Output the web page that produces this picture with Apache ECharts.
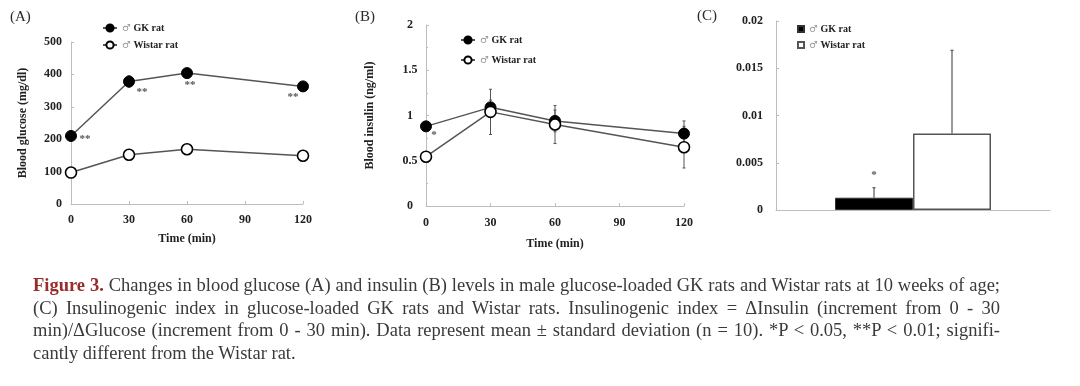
<!DOCTYPE html>
<html><head><meta charset="utf-8">
<script src="https://cdn.jsdelivr.net/npm/echarts@6/dist/echarts.min.js"></script>
<style>
html,body{margin:0;padding:0;background:#fff;}
#chart{position:absolute;left:0;top:0;width:1080px;height:386px;}
#cap{position:absolute;left:33px;top:274px;width:967px;font-family:"Liberation Serif",serif;font-size:18.5px;line-height:22.5px;color:#3a3a3a;}
#cap div{text-align:justify;text-align-last:justify;}
#cap div.last{text-align-last:left;}
#cap b{color:#9b2c2c;}
</style></head><body>
<div id="chart"></div>
<div id="cap">
<div><b>Figure 3.</b> Changes in blood glucose (A) and insulin (B) levels in male glucose-loaded GK rats and Wistar rats at 10 weeks of age;</div>
<div>(C) Insulinogenic index in glucose-loaded GK rats and Wistar rats. Insulinogenic index = ΔInsulin (increment from 0 - 30</div>
<div>min)/ΔGlucose (increment from 0 - 30 min). Data represent mean ± standard deviation (n = 10). *P &lt; 0.05, **P &lt; 0.01; signifi-</div>
<div class="last">cantly different from the Wistar rat.</div>
</div>
<script>
// ---- data ----
const timeMin = [0, 30, 60, 120];
const timeTicks = [0, 30, 60, 90, 120];
const glucoseGK = [210, 378, 404, 363];
const glucoseGKsd = [12, 18, 10, 10];
const glucoseWistar = [97, 152, 169, 149];
const glucoseWistarSd = [5, 8, 8, 6];
const glucoseSig = ['**', '**', '**', '**'];
const insulinGK = [0.88, 1.09, 0.94, 0.80];
const insulinGKsd = [0.03, 0.08, 0.12, 0.14];
const insulinWistar = [0.545, 1.04, 0.90, 0.65];
const insulinWistarSd = [0.03, 0.25, 0.21, 0.23];
const insulinSig = ['*', '', '', ''];
const indexMean = [0.0013, 0.0081];   // GK, Wistar
const indexSd = [0.00106, 0.0088];
const indexSig = ['*', ''];
const groupNames = ['GK rat', 'Wistar rat'];

// ---- styles ----
const FONT = '"Liberation Serif", "Times New Roman", serif';
const AXIS_C = '#bdbdbd';
const TXT = '#222';
const LINE_C = '#555';
const sigOffA = [[14, 3.5], [13, 11], [3, 12.5], [-10, 11]];
const sigOffB = [[8, 8.5], [0, 0], [0, 0], [0, 0]];
const BAR_W = 78;

const chart = echarts.init(document.getElementById('chart'));

function valueAxisX(gi, gapLabel, gapName) {
  return {
    type: 'value', gridIndex: gi, min: 0, max: 120, interval: 30,
    name: 'Time (min)', nameLocation: 'middle', nameGap: gapName,
    nameTextStyle: { fontFamily: FONT, fontWeight: 'bold', fontSize: 12, color: TXT },
    axisLine: { lineStyle: { color: AXIS_C, width: 1 } },
    axisTick: { inside: true, length: 3, lineStyle: { color: AXIS_C } },
    axisLabel: { fontFamily: FONT, fontWeight: 'bold', fontSize: 12, color: TXT, margin: gapLabel },
    splitLine: { show: false }
  };
}
function yAxisBase(gi, opts) {
  return Object.assign({
    type: 'value', gridIndex: gi, nameLocation: 'middle', nameRotate: 90,
    nameTextStyle: { fontFamily: FONT, fontWeight: 'bold', fontSize: 12, color: TXT },
    axisLine: { show: true, lineStyle: { color: AXIS_C, width: 1 } },
    axisTick: { show: true, inside: true, length: 3, lineStyle: { color: AXIS_C } },
    splitLine: { show: false }
  }, opts);
}

function errLine(xi, yi, xs, means, sds, z) {
  return {
    type: 'custom', xAxisIndex: xi, yAxisIndex: yi, z: z, silent: true,
    encode: { x: 0, y: [1, 2] },
    data: xs.map((x, i) => [x, means[i] - sds[i], means[i] + sds[i]]),
    renderItem(params, api) {
      const x = api.value(0);
      const pTop = api.coord([x, api.value(2)]);
      const pBot = api.coord([x, api.value(1)]);
      const st = { stroke: LINE_C, lineWidth: 1 };
      return { type: 'group', children: [
        { type: 'line', shape: { x1: pTop[0], y1: pTop[1], x2: pBot[0], y2: pBot[1] }, style: st },
        { type: 'line', shape: { x1: pTop[0] - 1.5, y1: pTop[1], x2: pTop[0] + 1.5, y2: pTop[1] }, style: st },
        { type: 'line', shape: { x1: pBot[0] - 1.5, y1: pBot[1], x2: pBot[0] + 1.5, y2: pBot[1] }, style: st }
      ]};
    }
  };
}

function lineSeries(name, xi, yi, xs, ys, filled, sig, offs) {
  return {
    type: 'line', name: name, xAxisIndex: xi, yAxisIndex: yi, z: 3,
    symbol: 'circle', symbolSize: 11, showSymbol: true,
    lineStyle: { color: LINE_C, width: 1.5 },
    itemStyle: { color: filled ? '#000' : '#fff', borderColor: '#000', borderWidth: filled ? 1 : 1.6 },
    emphasis: { disabled: true },
    data: xs.map((x, i) => {
      const d = { value: [x, ys[i]] };
      if (sig && sig[i]) {
        d.label = { show: true, position: 'inside', offset: offs[i], formatter: sig[i],
          fontFamily: FONT, fontSize: 11, color: '#555', fontWeight: 'bold' };
      }
      return d;
    })
  };
}

const legendRich = {
  m: { fontFamily: '"DejaVu Sans", sans-serif', fontSize: 10, color: '#999', lineHeight: 12 },
  b: { fontFamily: FONT, fontWeight: 'bold', fontSize: 10, color: TXT, lineHeight: 12 }
};
function legendFmt(n) { return '{m|♂}{b| ' + n.replace(/ \([A-C]\)$/, '') + '}'; }

const option = {
  animation: false,
  backgroundColor: '#fff',
  grid: [
    { left: 71, top: 42, width: 232, height: 162 },
    { left: 426, top: 25, width: 258, height: 181 },
    { left: 776, top: 21, width: 274, height: 189 }
  ],
  xAxis: [
    valueAxisX(0, 10, 29),
    valueAxisX(1, 11, 32),
    { type: 'category', gridIndex: 2, data: [''],
      axisLine: { lineStyle: { color: AXIS_C, width: 1 } },
      axisTick: { show: false }, axisLabel: { show: false } }
  ],
  yAxis: [
    yAxisBase(0, { min: 0, max: 500, interval: 100, name: 'Blood glucose (mg/dl)', nameGap: 42,
      axisLabel: { fontFamily: FONT, fontWeight: 'bold', fontSize: 12, color: TXT, margin: 9 } }),
    yAxisBase(1, { min: 0, max: 2, interval: 0.5, name: 'Blood insulin (ng/ml)', nameGap: 50,
      minorTick: { show: true, splitNumber: 2, length: 2, lineStyle: { color: AXIS_C } },
      axisLabel: { fontFamily: FONT, fontWeight: 'bold', fontSize: 12, color: TXT, margin: 16, align: 'center' } }),
    yAxisBase(2, { min: 0, max: 0.02, interval: 0.005,
      axisLabel: { fontFamily: FONT, fontWeight: 'bold', fontSize: 12, color: TXT, margin: 13,
        formatter: v => String(+v.toFixed(3)) } })
  ],
  legend: [
    { data: ['GK rat (A)', 'Wistar rat (A)'], orient: 'vertical', left: 97, top: 18,
      itemWidth: 14, itemHeight: 9, itemGap: 7, selectedMode: false, formatter: legendFmt,
      textStyle: { rich: legendRich } },
    { data: ['GK rat (B)', 'Wistar rat (B)'], orient: 'vertical', left: 455, top: 30,
      itemWidth: 14, itemHeight: 9, itemGap: 10, selectedMode: false, formatter: legendFmt,
      textStyle: { rich: legendRich } },
    { data: ['GK rat (C)', 'Wistar rat (C)'], orient: 'vertical', left: 792, top: 19,
      itemWidth: 6, itemHeight: 6, itemGap: 6, selectedMode: false, formatter: legendFmt,
      icon: 'rect', textStyle: { rich: legendRich } }
  ],
  graphic: [
    { type: 'text', left: 10, top: 10, style: { text: '(A)', font: '15px ' + FONT, fill: '#2a2a2a' } },
    { type: 'text', left: 355, top: 10, style: { text: '(B)', font: '15px ' + FONT, fill: '#2a2a2a' } },
    { type: 'text', left: 697, top: 9, style: { text: '(C)', font: '15px ' + FONT, fill: '#2a2a2a' } }
  ],
  series: [
    errLine(0, 0, timeMin, glucoseGK, glucoseGKsd, 1),
    errLine(0, 0, timeMin, glucoseWistar, glucoseWistarSd, 1),
    lineSeries('GK rat (A)', 0, 0, timeMin, glucoseGK, true, glucoseSig, sigOffA),
    lineSeries('Wistar rat (A)', 0, 0, timeMin, glucoseWistar, false),
    errLine(1, 1, timeMin, insulinGK, insulinGKsd, 1),
    errLine(1, 1, timeMin, insulinWistar, insulinWistarSd, 1),
    lineSeries('GK rat (B)', 1, 1, timeMin, insulinGK, true, insulinSig, sigOffB),
    lineSeries('Wistar rat (B)', 1, 1, timeMin, insulinWistar, false),
    { type: 'bar', name: 'GK rat (C)', xAxisIndex: 2, yAxisIndex: 2, barWidth: BAR_W, barGap: '0%',
      itemStyle: { color: '#000', borderColor: '#333', borderWidth: 1 }, emphasis: { disabled: true },
      data: [indexMean[0]] },
    { type: 'bar', name: 'Wistar rat (C)', xAxisIndex: 2, yAxisIndex: 2, barWidth: BAR_W, barGap: '0%',
      itemStyle: { color: '#fff', borderColor: '#555', borderWidth: 1.5 }, emphasis: { disabled: true },
      data: [indexMean[1]] },
    { type: 'custom', xAxisIndex: 2, yAxisIndex: 2, z: 5, silent: true,
      encode: { x: 0, y: [1, 2] },
      data: indexMean.map((m, i) => [0, m, m + indexSd[i], i]),
      renderItem(params, api) {
        const i = api.value(3);
        const base = api.coord([0, api.value(1)]);
        const top = api.coord([0, api.value(2)]);
        const x = base[0] + (i === 0 ? -BAR_W / 2 : BAR_W / 2);
        const st = { stroke: LINE_C, lineWidth: 1.2 };
        const ch = [
          { type: 'line', shape: { x1: x, y1: base[1], x2: x, y2: top[1] }, style: st },
          { type: 'line', shape: { x1: x - 1.5, y1: top[1], x2: x + 1.5, y2: top[1] }, style: st }
        ];
        if (indexSig[i]) {
          ch.push({ type: 'text', x: x, y: top[1] - 12.5, style: { text: indexSig[i], font: 'bold 11px ' + FONT,
            fill: '#555', align: 'center', verticalAlign: 'middle' } });
        }
        return { type: 'group', children: ch };
      }
    }
  ]
};
chart.setOption(option);
</script>
</body></html>
